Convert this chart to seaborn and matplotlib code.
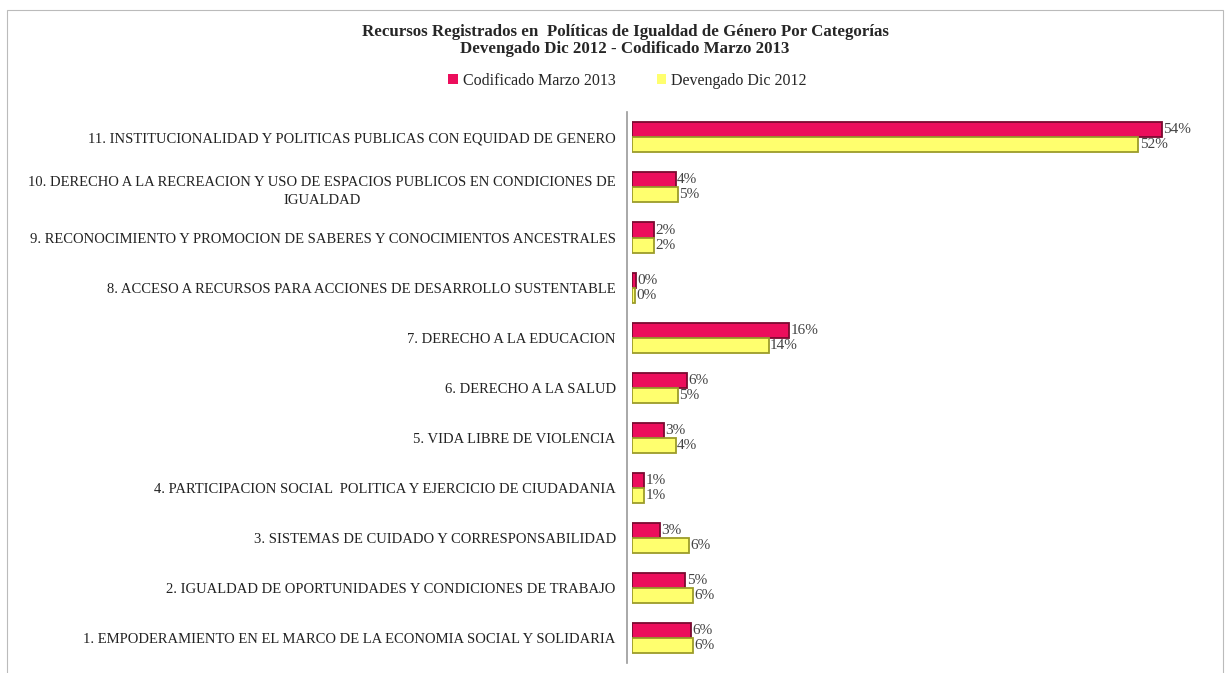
import numpy as np
import pandas as pd
import matplotlib
matplotlib.use('Agg')
import matplotlib.pyplot as plt
import seaborn as sns
from matplotlib.patches import Rectangle

# categories, top to bottom
categorias = [
    '11. INSTITUCIONALIDAD Y POLITICAS PUBLICAS CON EQUIDAD DE GENERO',
    '10. DERECHO A LA RECREACION Y USO DE ESPACIOS PUBLICOS EN CONDICIONES DE\nIGUALDAD',
    '9. RECONOCIMIENTO Y PROMOCION DE SABERES Y CONOCIMIENTOS ANCESTRALES',
    '8. ACCESO A RECURSOS PARA ACCIONES DE DESARROLLO SUSTENTABLE',
    '7. DERECHO A LA EDUCACION',
    '6. DERECHO A LA SALUD',
    '5. VIDA LIBRE DE VIOLENCIA',
    '4. PARTICIPACION SOCIAL  POLITICA Y EJERCICIO DE CIUDADANIA',
    '3. SISTEMAS DE CUIDADO Y CORRESPONSABILIDAD',
    '2. IGUALDAD DE OPORTUNIDADES Y CONDICIONES DE TRABAJO',
    '1. EMPODERAMIENTO EN EL MARCO DE LA ECONOMIA SOCIAL Y SOLIDARIA',
]

# percentages
codificado = [54.0, 4.4, 2.2, 0.4, 16.0, 5.6, 3.2, 1.2, 2.8, 5.4, 6.0]
devengado = [51.6, 4.6, 2.2, 0.3, 13.9, 4.6, 4.4, 1.2, 5.8, 6.2, 6.2]

series = ['Codificado Marzo 2013', 'Devengado Dic 2012']
colores = ['#EC0E5C', '#FFFF6E']
bordes = ['#7A0A30', '#9C9C2A']

df = pd.DataFrame({
    'categoria': categorias * 2,
    'valor': codificado + devengado,
    'serie': [series[0]] * len(categorias) + [series[1]] * len(categorias),
})

sns.set_style('white')
plt.rcParams['font.family'] = ['Liberation Serif', 'DejaVu Serif']

fig = plt.figure(figsize=(12.28, 6.73), dpi=100)
ax = fig.add_axes([0.515, 0.015, 0.463, 0.818])

sns.barplot(data=df, y='categoria', x='valor', hue='serie', orient='h',
            palette=colores, saturation=1, width=0.6, ax=ax, legend=False)

# edge colours per series
for cont, ec in zip(ax.containers, bordes):
    for bar in cont:
        bar.set_edgecolor(ec)
        bar.set_linewidth(1.3)

# data labels
for cont in ax.containers:
    etiquetas = ['%.0f%%' % v for v in cont.datavalues]
    ax.bar_label(cont, labels=etiquetas, padding=1, fontsize=11, color='#444444')

# spines first (set_position resets the ticks)
for s in ['top', 'right', 'bottom']:
    ax.spines[s].set_visible(False)
ax.spines['left'].set_color('#999999')
ax.spines['left'].set_linewidth(1.2)
ax.spines['left'].set_position(('outward', 4))

ax.set_xlim(0, 58)
ax.set_xlabel('')
ax.set_ylabel('')
ax.set_xticks([])
ax.tick_params(axis='y', length=0, pad=8, labelsize=10.5, labelcolor='#222222')
for lbl in ax.get_yticklabels():
    lbl.set_multialignment('center')
    lbl.set_linespacing(1.5)

# title
fig.text(0.509, 0.953, 'Recursos Registrados en  Políticas de Igualdad de Género Por Categorías',
         ha='center', va='center', fontsize=12.2, fontweight='bold')
fig.text(0.509, 0.927, 'Devengado Dic 2012 - Codificado Marzo 2013',
         ha='center', va='center', fontsize=12.2, fontweight='bold')

# legend
handles = [Rectangle((0, 0), 1, 1, facecolor=c, edgecolor='none') for c in colores]
fig.legend(handles, series, loc='center', bbox_to_anchor=(0.511, 0.88), ncol=2,
           frameon=False, fontsize=11.5, handlelength=0.6, handleheight=0.6,
           handletextpad=0.3, columnspacing=2.6)

# frame around image
fig.patches.append(Rectangle((0.006, -0.01), 0.99, 0.995, transform=fig.transFigure,
                             fill=False, edgecolor='#BBBBBB', linewidth=0.8))

fig.savefig('out.png', dpi=100)
